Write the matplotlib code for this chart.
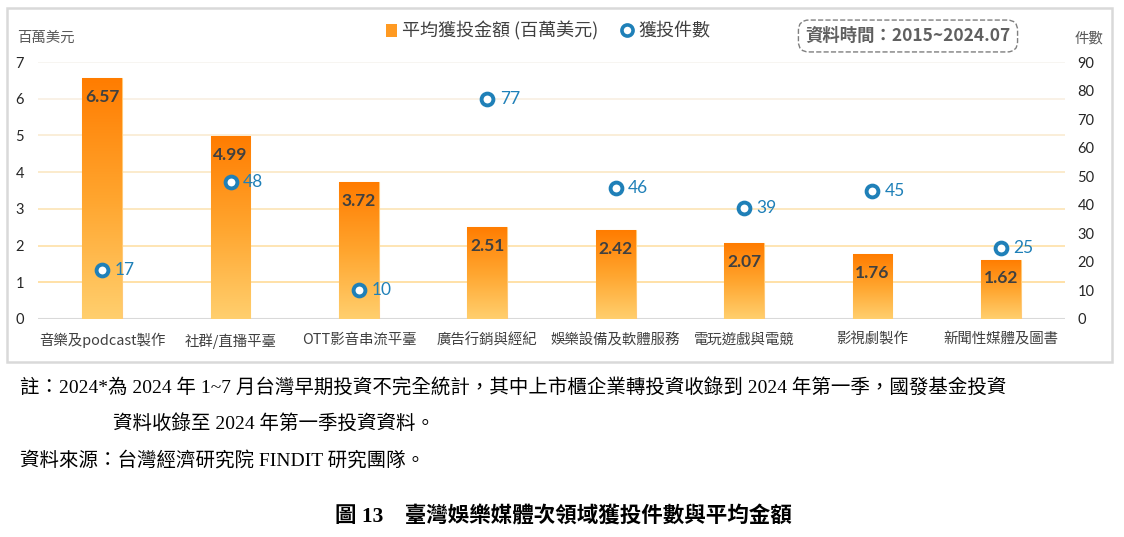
import matplotlib
matplotlib.use("Agg")
import matplotlib.pyplot as plt
import numpy as np
from matplotlib.colors import LinearSegmentedColormap, to_rgb
from matplotlib.patches import Rectangle, Patch
from matplotlib.lines import Line2D

plt.rcParams['font.family'] = ['Noto Sans CJK TC', 'DejaVu Sans']

# data
categories = ["音樂及podcast製作", "社群/直播平臺", "OTT影音串流平臺", "廣告行銷與經紀",
              "娛樂設備及軟體服務", "電玩遊戲與電競", "影視劇製作", "新聞性媒體及圖書"]
avg_amount = [6.57, 4.99, 3.72, 2.51, 2.42, 2.07, 1.76, 1.62]
deal_count = [17, 48, 10, 77, 46, 39, 45, 25]
left_ticks = [0, 1, 2, 3, 4, 5, 6, 7]
right_ticks = [0, 10, 20, 30, 40, 50, 60, 70, 80, 90]

note_line1 = "註：2024*為 2024 年 1~7 月台灣早期投資不完全統計，其中上市櫃企業轉投資收錄到 2024 年第一季，國發基金投資"
note_line2 = "資料收錄至 2024 年第一季投資資料。"
source_line = "資料來源：台灣經濟研究院 FINDIT 研究團隊。"
caption = "圖 13　臺灣娛樂媒體次領域獲投件數與平均金額"

bar_cmap = LinearSegmentedColormap.from_list("bar", ["#FFCF6E", "#FFA52E", "#FF7C00"])
blue = "#1F80B8"
serif = ['Liberation Serif', 'Noto Sans CJK TC']

fig = plt.figure(figsize=(11.24, 5.37), dpi=100)
ax = fig.add_axes([38 / 1124, 1 - 319 / 537, 1027 / 1124, 257 / 537])
ax2 = ax.twinx()

x = np.arange(len(categories))

# gridlines fade from light orange (bottom) to near white (top)
lo, hi = np.array(to_rgb("#FFDC98")), np.array(to_rgb("#F6F3EF"))
for v in left_ticks[1:]:
    t = (v - 1) / 6
    ax.axhline(v, color=lo * (1 - t) + hi * t, lw=1.2, zorder=0)
ax.axhline(0, color="#D9D9D9", lw=1.5, zorder=1)

bars = ax.bar(x, avg_amount, width=0.31, color="none", edgecolor="#FFC978", lw=0.8, zorder=2)
grad = np.linspace(0, 1, 256).reshape(-1, 1)
for b in bars:
    x0, w, h = b.get_x(), b.get_width(), b.get_height()
    im = ax.imshow(grad, cmap=bar_cmap, origin="lower", aspect="auto",
                   extent=(x0, x0 + w, 0, h), zorder=2)
    im.set_clip_path(b)

for xi, v in zip(x, avg_amount):
    ax.annotate(f"{v:.2f}", (xi, v), xytext=(0, -13.5), textcoords="offset points",
                ha="center", va="center", fontsize=12.5, fontweight="bold",
                family="Lato", color="#404040", zorder=4)

ax.set_xlim(-0.5, len(categories) - 0.5)
ax.set_ylim(0, 7)
ax.set_yticks(left_ticks)
ax.set_xticks(x)
ax.set_xticklabels(categories, fontsize=10.4, color="#404040")
ax.tick_params(axis="x", length=0, pad=10)
ax.tick_params(axis="y", length=0, pad=10, labelsize=10.5, labelcolor="#262626")
for lab in ax.get_yticklabels():
    lab.set_family("Lato")

ax2.plot(x, deal_count, ls="none", marker="o", ms=8.5, mfc="white", mec=blue, mew=2.8, zorder=5)
for xi, c in zip(x, deal_count):
    ax2.annotate(str(c), (xi, c), xytext=(9, 0), textcoords="offset points",
                 ha="left", va="center", fontsize=12.5, family="Lato", color=blue)
ax2.set_ylim(0, 90)
ax2.set_yticks(right_ticks)
ax2.tick_params(axis="y", length=0, pad=9, labelsize=10.5, labelcolor="#262626")
for lab in ax2.get_yticklabels():
    lab.set_family("Lato")

for a in (ax, ax2):
    for s in a.spines.values():
        s.set_visible(False)

# axis unit labels
fig.text(17 / 1124, 1 - 38 / 537, "百萬美元", fontsize=10.4, color="#595959", va="center")
fig.text(1075 / 1124, 1 - 38 / 537, "件數", fontsize=10.4, color="#595959", va="center")

# legend
handles = [Patch(facecolor="#FF9A22", edgecolor="none"),
           Line2D([], [], ls="none", marker="o", ms=8, mfc="white", mec=blue, mew=2.6)]
fig.legend(handles, ["平均獲投金額 (百萬美元)", "獲投件數"], loc="center",
           bbox_to_anchor=(548 / 1124, 1 - 31 / 537), ncol=2, frameon=False,
           fontsize=13, handlelength=0.6, handletextpad=0.3, columnspacing=1.3,
           labelcolor="#404040")

# data period box
fig.text(908 / 1124, 1 - 36 / 537, "資料時間：2015~2024.07", fontsize=12.5, color="#606060",
         ha="center", va="center", fontweight="bold",
         bbox=dict(boxstyle="round,pad=0.4,rounding_size=0.6", fc="white",
                   ec="#7F7F7F", ls="--", lw=1))

# chart frame
fig.patches.append(Rectangle((7 / 1124, 1 - 362 / 537), 1105 / 1124, 354 / 537,
                             transform=fig.transFigure, fill=False,
                             ec="#D9D9D9", lw=1.8))

# notes and caption
fig.text(20 / 1124, 1 - 388 / 537, note_line1, fontsize=14, family=serif, va="center")
fig.text(113 / 1124, 1 - 423 / 537, note_line2, fontsize=14, family=serif, va="center")
fig.text(20 / 1124, 1 - 461 / 537, source_line, fontsize=14, family=serif, va="center")
fig.text(563 / 1124, 1 - 516 / 537, caption, fontsize=15.5, family=serif,
         fontweight="bold", ha="center", va="center")

fig.savefig("out.png", dpi=100)
